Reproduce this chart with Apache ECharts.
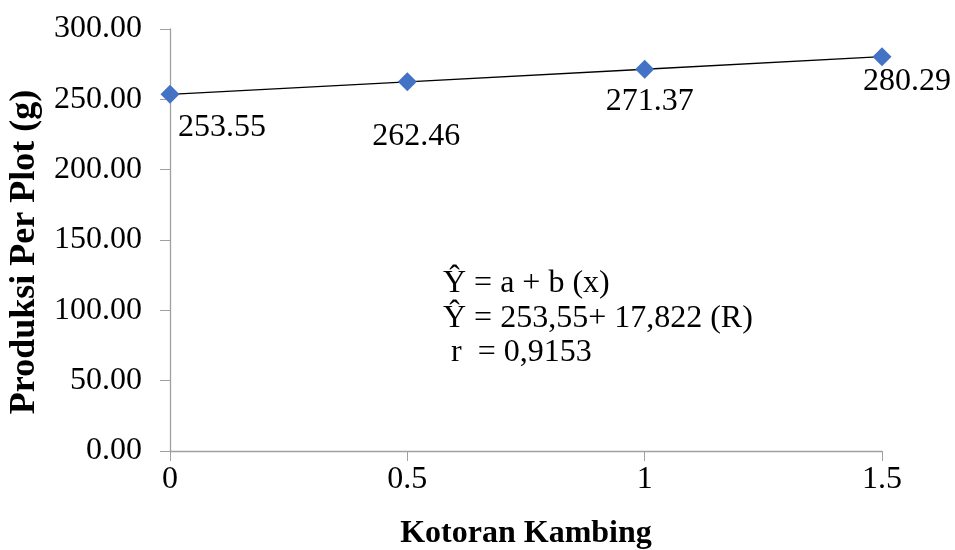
<!DOCTYPE html>
<html>
<head>
<meta charset="utf-8">
<script src="https://cdn.jsdelivr.net/npm/echarts@6/dist/echarts.min.js"></script>
<style>html,body{margin:0;padding:0;background:#fff;}#c{width:955px;height:550px;}</style>
</head>
<body>
<div id="c"></div>
<script>
const xValues = [0, 0.5, 1, 1.5];
const yValues = [253.55, 262.46, 271.37, 280.29];
const xTicks = [0, 0.5, 1, 1.5];
const yTicks = [0, 50, 100, 150, 200, 250, 300];
const equationLines = ['\u0176 = a + b (x)', '\u0176 = 253,55+ 17,822 (R)', ' r  = 0,9153'];
const labelOffsets = [[52, 33], [9, 55], [5, 32], [25, 25]];
const equationCenters = [284, 319, 353];

const FONT = '"Liberation Serif", "Times New Roman", serif';
const chart = echarts.init(document.getElementById('c'), null, {renderer: 'canvas'});
const data = xValues.map((x, i) => ({
  value: [x, yValues[i]],
  label: {offset: labelOffsets[i]}
}));
chart.setOption({
  animation: false,
  backgroundColor: '#fff',
  grid: {left: 170, right: 73, top: 29, bottom: 99, containLabel: false, outerBoundsMode: 'none'},
  xAxis: {
    type: 'value', min: 0, max: 1.5, interval: 0.5,
    name: 'Kotoran Kambing', nameLocation: 'middle', nameGap: 67,
    nameTextStyle: {fontFamily: FONT, fontWeight: 'bold', fontSize: 32, color: '#000'},
    axisLine: {show: true, lineStyle: {color: '#a0a0a0', width: 1.3}},
    axisTick: {show: true, length: 10, lineStyle: {color: '#a0a0a0'}},
    splitLine: {show: false},
    axisLabel: {fontFamily: FONT, fontSize: 32, color: '#000', margin: 13,
      formatter: v => String(v)}
  },
  yAxis: {
    type: 'value', min: 0, max: 300, interval: 50,
    name: 'Produksi Per Plot (g)', nameLocation: 'middle', nameGap: 127, nameRotate: 90,
    nameTextStyle: {fontFamily: FONT, fontWeight: 'bold', fontSize: 36, color: '#000', padding: [0, 24, 0, 0]},
    axisLine: {show: true, lineStyle: {color: '#a0a0a0', width: 1.3}},
    axisTick: {show: true, length: 10, lineStyle: {color: '#a0a0a0'}},
    splitLine: {show: false},
    axisLabel: {fontFamily: FONT, fontSize: 32, color: '#000', margin: 28,
      formatter: v => v.toFixed(2)}
  },
  series: [{
    type: 'line',
    data: data,
    symbol: 'diamond', symbolSize: 19,
    itemStyle: {color: '#4472C4'},
    lineStyle: {color: '#000', width: 1.3},
    z: 3,
    label: {show: true, position: 'inside', fontFamily: FONT, fontSize: 32, color: '#000',
      formatter: p => p.value[1].toFixed(2)}
  }],
  graphic: equationLines.map((t, i) => ({
    type: 'text', x: 443, y: equationCenters[i],
    style: {text: t, font: '32px ' + FONT, fill: '#000', verticalAlign: 'middle', align: 'left'}
  }))
});
</script>
</body>
</html>
